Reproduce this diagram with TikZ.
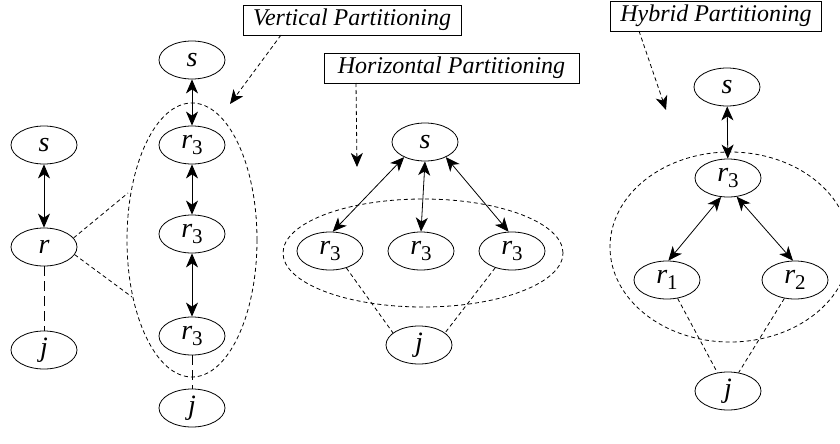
\documentclass[tikz,border=0pt]{standalone}
\usepackage{fontspec}
\setmainfont{Liberation Serif}
\usetikzlibrary{arrows.meta,shapes.geometric}

% lowered upright index digit, e.g. r_3
\newcommand{\lowidx}[1]{\raisebox{-0.45ex}{\fontsize{21}{21}\selectfont\upshape #1}}

\tikzset{
  var/.style={ellipse, draw, line width=0.8pt, inner sep=0pt,
    minimum width=66pt, minimum height=38pt,
    font=\fontsize{28}{30}\selectfont\itshape},
  tag/.style={draw, line width=0.8pt, inner xsep=10pt, inner ysep=0pt,
    minimum height=30pt, text height=17pt, text depth=6pt,
    font=\fontsize{24}{26}\selectfont\itshape},
  biarrow/.style={line width=0.8pt, {Stealth[length=14pt,width=12pt,inset=4pt]}-{Stealth[length=14pt,width=12pt,inset=4pt]}},
  pointer/.style={line width=0.8pt, dash pattern=on 4pt off 3pt,
    -{Stealth[length=14pt,width=12pt,inset=4pt]}},
  group/.style={line width=0.8pt, dash pattern=on 4pt off 3pt},
  link/.style={line width=0.8pt, dash pattern=on 4pt off 3pt},
  longlink/.style={line width=0.8pt, dash pattern=on 10pt off 5pt},
}

\begin{document}
\begin{tikzpicture}[x=1pt, y=-1pt]
\useasboundingbox (0,0) rectangle (840,444);

% ---------- single relation ----------
\node[var] (ls) at (44,145) {s};
\node[var] (lr) at (44,247) {r};
\node[var] (lj) at (44,350) {j};
\draw[biarrow] (ls) -- (lr);
\draw[longlink] (lr) -- (lj);

% ---------- vertical partitioning ----------
\node[var] (vs) at (192,60) {s};
\node[var] (va) at (192,145) {r\lowidx{3}};
\node[var] (vb) at (192,234) {r\lowidx{3}};
\node[var] (vc) at (192,336) {r\lowidx{3}};
\node[var] (vj) at (192,408) {j};
\node[ellipse, group, draw, minimum width=130pt, minimum height=274pt] (vg) at (192,240) {};
\draw[biarrow] (vs) -- (va);
\draw[biarrow] (va) -- (vb);
\draw[biarrow] (vb) -- (vc);
\draw[longlink] (vc) -- (vj);
\coordinate (vgu) at (128,193);
\coordinate (vgl) at (132,297);
\draw[link] (lr.17) -- (vgu);
\draw[link] (lr.-14) -- (vgl);

\node[tag] (vt) at (352,20) {Vertical Partitioning};
\coordinate (vtfoot) at (281,35);
\coordinate (vtip) at (230,104);
\draw[pointer] (vtfoot) -- (vtip);

% ---------- horizontal partitioning ----------
\node[var] (hs) at (425,142) {s};
\node[var] (ha) at (330,251) {r\lowidx{3}};
\node[var] (hb) at (421,251) {r\lowidx{3}};
\node[var] (hc) at (512,251) {r\lowidx{3}};
\node[var] (hj) at (419,345) {j};
\node[ellipse, group, draw, minimum width=280pt, minimum height=108pt] (hg) at (423,253) {};
\draw[biarrow] (hs.216) -- (ha.82);
\draw[biarrow] (hs.south) -- (hb.north);
\draw[biarrow] (hs.-36) -- (hc.100);
\draw[link] (ha.-46) -- (hj.155);
\draw[link] (hc.-135) -- (hj.25);

\node[tag, minimum width=255pt] (ht) at (451.5,68) {Horizontal Partitioning};
\coordinate (htfoot) at (356,83);
\coordinate (htip) at (357,167);
\draw[pointer] (htfoot) -- (htip);

% ---------- hybrid partitioning ----------
\node[var] (ys) at (727,87) {s};
\node[var] (ya) at (728,178) {r\lowidx{3}};
\node[var] (yb) at (667,280) {r\lowidx{1}};
\node[var] (yc) at (795,280) {r\lowidx{2}};
\node[var] (yj) at (728,391) {j};
\node[ellipse, group, draw, minimum width=240pt, minimum height=190pt] (yg) at (730,247) {};
\draw[biarrow] (ys) -- (ya);
\draw[biarrow] (ya.250) -- (yb.86);
\draw[biarrow] (ya.-65) -- (yc.96);
\draw[link] (yb.-60) -- (yj.120);
\draw[link] (yc.-120) -- (yj.60);

\node[tag] (yt) at (716,16) {Hybrid Partitioning};
\coordinate (ytfoot) at (639,31);
\coordinate (ytip) at (666,110);
\draw[pointer] (ytfoot) -- (ytip);
\end{tikzpicture}
\end{document}
